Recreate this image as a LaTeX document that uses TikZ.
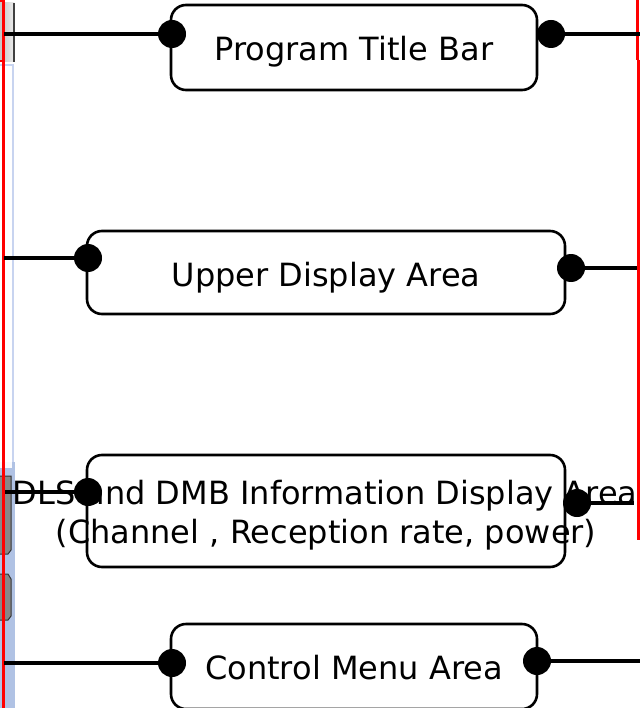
\documentclass[tikz,border=0pt]{standalone}
\usepackage{fontspec}
\setmainfont{DejaVu Sans}
\definecolor{lav}{RGB}{176,194,228}
\definecolor{lavline}{RGB}{200,212,240}
\definecolor{grayblk}{RGB}{135,135,135}
\begin{document}
\begin{tikzpicture}[x=1pt,y=-1pt,
  box/.style={draw=black,line width=2.6pt,rounded corners=15pt,fill=white},
  lbl/.style={font=\fontsize{32}{40}\selectfont,inner sep=0pt,anchor=base},
  dot/.style={circle,fill=black,inner sep=0pt,minimum size=28pt},
  conn/.style={draw=black,line width=3.2pt},
  redline/.style={draw=red,line width=3pt}]
\useasboundingbox (0,0) rectangle (640,708);
\fill[white] (0,0) rectangle (640,708);
% left screenshot remnants
\shade[left color=gray!45,right color=gray!15] (0,3) rectangle (14,62);
\draw[black!75,line width=2pt] (13.5,3) -- (13.5,62);
\draw[lavline,line width=2.5pt] (0,65) -- (13,65) -- (13,462);
\fill[lav] (0,462) rectangle (15,708);
\fill[white!92!lav] (0,462) rectangle (12,468);
\filldraw[fill=grayblk,draw=black!80,line width=1pt] (0,476) -- (11,476) -- (11,550) -- (8,554) -- (0,554);
\filldraw[fill=grayblk,draw=black!80,line width=1pt] (0,574) -- (8,574) -- (11,579) -- (11,616) -- (8,620) -- (0,620);
% red frame lines
\draw[red,line width=1.5pt] (0,1) -- (4,1) -- (4,61) -- (0,61);
\draw[redline] (3,0) -- (3,708);
\draw[redline] (637.5,0) -- (637.5,60);
\draw[redline] (638,60) -- (638,540);
% boxes
\node[box,minimum width=366pt,minimum height=85pt] (b1) at (354,47.5) {};
\node[box,minimum width=478pt,minimum height=83pt] (b2) at (326,272.5) {};
\node[box,minimum width=478pt,minimum height=112pt] (b3) at (326,511) {};
\node[box,minimum width=366pt,minimum height=85pt] (b4) at (354,666.5) {};
% labels
\node[lbl] (t1) at (354,61) {Program Title Bar};
\node[lbl] (t2) at (326,286) {Upper Display Area};
\node[lbl] (t3a) at (325,504) {DLS and DMB Information Display Area};
\node[lbl] (t3b) at (326,543) {(Channel , Reception rate, power)};
\node[lbl] (t4) at (354,679) {Control Menu Area};
% free ends
\coordinate (l1) at (4,34);
\coordinate (r1) at (640,34);
\coordinate (l2) at (4,258);
\coordinate (r2) at (637,268);
\coordinate (l3) at (5,492);
\coordinate (r3) at (634,503);
\coordinate (l4) at (4,663);
\coordinate (r4) at (640,661);
% dots
\node[dot] (d1l) at (172,34) {};
\node[dot] (d1r) at (551,34) {};
\node[dot] (d2l) at (88,258) {};
\node[dot] (d2r) at (571,268) {};
\node[dot] (d3l) at (88,492) {};
\node[dot] (d3r) at (577,503) {};
\node[dot] (d4l) at (172,663) {};
\node[dot] (d4r) at (537,661) {};
% connectors
\draw[conn] (l1) -- (d1l.center);
\draw[conn] (d1r.center) -- (r1);
\draw[conn] (l2) -- (d2l.center);
\draw[conn] (d2r.center) -- (r2);
\draw[conn] (l3) -- (d3l.center);
\draw[conn] (d3r.center) -- (r3);
\draw[conn] (l4) -- (d4l.center);
\draw[conn] (d4r.center) -- (r4);
\end{tikzpicture}
\end{document}
